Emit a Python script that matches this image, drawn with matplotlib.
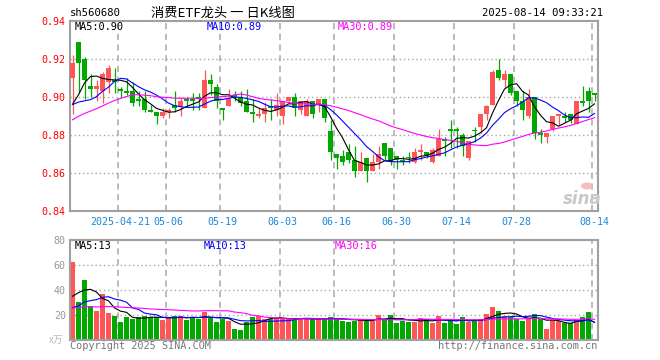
import numpy as np
import pandas as pd
import matplotlib
matplotlib.use('Agg')
import matplotlib.pyplot as plt
from matplotlib.patches import Ellipse

# daily bars 2025-04-09 .. 2025-08-14 (last bar is intraday)
opens = [0.910, 0.929, 0.920, 0.906, 0.904, 0.903, 0.908, 0.909, 0.904, 0.903,
         0.903, 0.899, 0.899, 0.893, 0.892, 0.890, 0.892, 0.896, 0.895, 0.899,
         0.899, 0.900, 0.894, 0.909, 0.905, 0.894, 0.895, 0.901, 0.900, 0.898,
         0.892, 0.890, 0.891, 0.895, 0.893, 0.890, 0.898, 0.900, 0.893, 0.890,
         0.898, 0.896, 0.899, 0.882, 0.870, 0.869, 0.871, 0.867, 0.861, 0.868,
         0.861, 0.866, 0.876, 0.873, 0.869, 0.867, 0.8685, 0.866, 0.871, 0.871,
         0.866, 0.869, 0.878, 0.883, 0.883, 0.880, 0.868, 0.8825, 0.884, 0.891,
         0.896, 0.914, 0.909, 0.912, 0.903, 0.898, 0.890, 0.900, 0.881, 0.879,
         0.883, 0.890, 0.890, 0.891, 0.886, 0.898, 0.903, 0.902]
highs = [0.922, 0.929, 0.921, 0.912, 0.909, 0.913, 0.917, 0.915, 0.905, 0.910,
         0.908, 0.903, 0.903, 0.896, 0.892, 0.894, 0.894, 0.903, 0.900, 0.900,
         0.902, 0.902, 0.914, 0.912, 0.907, 0.894, 0.904, 0.903, 0.903, 0.904,
         0.899, 0.894, 0.8975, 0.899, 0.902, 0.898, 0.900, 0.902, 0.898, 0.899,
         0.898, 0.899, 0.899, 0.888, 0.870, 0.872, 0.875, 0.874, 0.871, 0.868,
         0.870, 0.874, 0.876, 0.873, 0.869, 0.869, 0.871, 0.873, 0.875, 0.871,
         0.873, 0.883, 0.879, 0.888, 0.884, 0.881, 0.877, 0.884, 0.891, 0.896,
         0.914, 0.920, 0.914, 0.912, 0.903, 0.903, 0.904, 0.900, 0.883, 0.881,
         0.890, 0.891, 0.892, 0.891, 0.898, 0.906, 0.905, 0.902]
lows = [0.891, 0.902, 0.899, 0.900, 0.898, 0.897, 0.902, 0.902, 0.900, 0.901,
        0.895, 0.895, 0.892, 0.892, 0.886, 0.889, 0.889, 0.892, 0.890, 0.895,
        0.893, 0.893, 0.894, 0.901, 0.894, 0.888, 0.895, 0.898, 0.895, 0.892,
        0.887, 0.889, 0.887, 0.888, 0.890, 0.886, 0.897, 0.890, 0.891, 0.890,
        0.889, 0.892, 0.887, 0.867, 0.862, 0.864, 0.865, 0.858, 0.861, 0.855,
        0.861, 0.862, 0.867, 0.864, 0.862, 0.864, 0.865, 0.865, 0.867, 0.868,
        0.865, 0.869, 0.869, 0.873, 0.873, 0.869, 0.867, 0.8765, 0.881, 0.888,
        0.896, 0.909, 0.905, 0.901, 0.895, 0.888, 0.889, 0.878, 0.876, 0.876,
        0.882, 0.885, 0.887, 0.8865, 0.886, 0.895, 0.892, 0.898]
closes = [0.918, 0.918, 0.909, 0.904, 0.906, 0.912, 0.915, 0.908, 0.903, 0.902,
          0.897, 0.898, 0.893, 0.892, 0.890, 0.892, 0.893, 0.894, 0.898, 0.898,
          0.898, 0.899, 0.909, 0.907, 0.898, 0.893, 0.899, 0.900, 0.897, 0.892,
          0.891, 0.891, 0.894, 0.894, 0.896, 0.898, 0.900, 0.894, 0.898, 0.898,
          0.891, 0.899, 0.889, 0.871, 0.868, 0.866, 0.867, 0.861, 0.866, 0.861,
          0.866, 0.870, 0.869, 0.866, 0.867, 0.866, 0.868, 0.871, 0.872, 0.869,
          0.872, 0.878, 0.877, 0.882, 0.882, 0.874, 0.877, 0.882, 0.891, 0.895,
          0.913, 0.910, 0.912, 0.902, 0.898, 0.893, 0.900, 0.881, 0.880, 0.881,
          0.890, 0.891, 0.889, 0.888, 0.898, 0.897, 0.898, 0.901]
# volume, 万手
vols = [62.7, 30.7, 48, 27.2, 23.2, 36.8, 21.6, 19.5, 14.4, 18.4,
        16.8, 18.4, 19.2, 18.4, 18.4, 16, 17.9, 19.2, 19.5, 16,
        17.9, 17.1, 22.4, 17.9, 14.4, 16.8, 15.2, 8.8, 8, 14.4,
        18.4, 19.5, 16.8, 16.8, 17.3, 17.9, 16.8, 16.8, 16.8, 16.8,
        16.8, 16.8, 16.8, 18.4, 16.8, 15.5, 14.7, 15.5, 16.8, 15.5,
        15.5, 20, 16, 20, 13.9, 15.5, 14.7, 14.7, 17.6, 15.5,
        13.9, 19.5, 13.6, 16.8, 12.8, 18.4, 14.7, 15.5, 16.8, 20.8,
        26.4, 23.2, 19.2, 18.4, 16.8, 15.2, 17.6, 20.8, 16.8, 8.8,
        16, 15.2, 13.3, 13.3, 16, 18.4, 22.4, 0.8]

# bars before the window: not visible, guessed from where the MA lines start
prev_close = [0.862, 0.865, 0.866, 0.868, 0.870, 0.869, 0.867, 0.870, 0.872, 0.871,
              0.896, 0.899, 0.902, 0.904, 0.901, 0.899, 0.903, 0.900, 0.898, 0.898,
              0.905, 0.902, 0.898, 0.890, 0.884, 0.893, 0.878, 0.887, 0.905]
prev_vol = [22, 24, 28, 30, 26, 23, 21, 25, 27, 24,
            26, 28, 31, 25, 22, 24, 27, 26, 24, 24.2,
            18, 16, 17, 15, 19, 16.2, 37.5, 24.5, 34.1]

tick_idx = [8, 16, 25, 35, 44, 54, 64, 74, 87]
tick_lab = ['2025-04-21', '05-06', '05-19', '06-03', '06-16', '06-30', '07-14', '07-28', '08-14']

RED = '#ff5555'
GREEN = '#00a800'
GRID = '#a8a8a8'
MONO = 'DejaVu Sans Mono'
CJK = ['Noto Sans CJK SC', 'DejaVu Sans']

o = np.array(opens); h = np.array(highs); l = np.array(lows); c = np.array(closes)
v = np.array(vols)
n = len(c)
x = np.arange(n)
col = np.where(c >= o, RED, GREEN)

def ma(prev, cur, k):
    s = pd.Series(list(prev) + list(cur)).rolling(k).mean().values
    return s[len(prev):]

W, H = 660, 360
fig = plt.figure(figsize=(6.6, 3.6), dpi=100)
ax = fig.add_axes([70 / W, 1 - 211 / H, 528 / W, 190 / H])
axv = fig.add_axes([70 / W, 1 - 340 / H, 528 / W, 100 / H])

xmin = -0.42
for a in (ax, axv):
    a.set_xlim(xmin, xmin + 88)
    for s in a.spines.values():
        s.set_color('#a0a0a0')
        s.set_linewidth(1.5)
    for t in tick_idx:
        a.axvline(t - 0.42, color=GRID, lw=1.1, ls=(0, (4, 3)), zorder=0)
    a.tick_params(length=0)

# price panel
ax.set_ylim(0.84, 0.94)
for yv in [0.86, 0.88, 0.90, 0.92]:
    ax.axhline(yv, color=GRID, lw=1, ls=(0, (1, 2)), zorder=0)
ax.vlines(x, l, h, colors=col, lw=0.9, zorder=2)
body = np.maximum(np.abs(c - o), 0.0005)
ax.bar(x, body, 0.82, bottom=np.minimum(o, c), color=col, lw=0, zorder=3)
ax.plot(x, ma(prev_close, c, 5), color='black', lw=0.8, zorder=4)
ax.plot(x, ma(prev_close, c, 10), color='#0000ff', lw=0.8, zorder=4)
ax.plot(x, ma(prev_close, c, 30), color='#ff00ff', lw=0.8, zorder=4)
ax.set_yticks([0.84, 0.86, 0.88, 0.90, 0.92, 0.94])
ax.set_yticklabels(['%.2f' % t for t in ax.get_yticks()], color='red', family=MONO, fontsize=7.2)
ax.tick_params(axis='y', pad=3)
ax.set_xticks(tick_idx)
ax.set_xticklabels(tick_lab, color='#1a88d8', family=MONO, fontsize=7.2)
ax.tick_params(axis='x', pad=4)

# volume panel
axv.set_ylim(0, 80)
for yv in [20, 40, 60]:
    axv.axhline(yv, color=GRID, lw=1, ls=(0, (1, 2)), zorder=0)
axv.bar(x, v, 0.82, color=col, lw=0, zorder=2)
axv.plot(x, ma(prev_vol, v, 5), color='black', lw=0.8, zorder=4)
axv.plot(x, ma(prev_vol, v, 10), color='#0000ff', lw=0.8, zorder=4)
axv.plot(x, ma(prev_vol, v, 30), color='#ff00ff', lw=0.8, zorder=4)
axv.set_yticks([20, 40, 60, 80])
axv.set_yticklabels(['20', '40', '60', '80'], color='#999999', family=MONO, fontsize=7.2)
axv.tick_params(axis='y', pad=3)
axv.set_xticks([])

def ftext(px, py, s, **kw):
    fig.text(px / W, 1 - py / H, s, va='center', **kw)

# header
ftext(70, 13, 'sh560680', family=MONO, fontsize=7.6, color='black')
ftext(151, 13, '消费ETF龙头 一 日K线图', family=CJK, fontsize=9.5, color='black')
ftext(603, 13, '2025-08-14 09:33:21', family=MONO, fontsize=7.6, color='black', ha='right')

# MA legends
ftext(75, 27, 'MA5:0.90', family=MONO, fontsize=7.4, color='black')
ftext(207, 27, 'MA10:0.89', family=MONO, fontsize=7.4, color='#0000ff')
ftext(338, 27, 'MA30:0.89', family=MONO, fontsize=7.4, color='#ff00ff')
ftext(75, 246, 'MA5:13', family=MONO, fontsize=7.4, color='black')
ftext(204, 246, 'MA10:13', family=MONO, fontsize=7.4, color='#0000ff')
ftext(335, 246, 'MA30:16', family=MONO, fontsize=7.4, color='#ff00ff')

# footer
ftext(70, 346, 'Copyright 2025 SINA.COM', family=MONO, fontsize=7.4, color='#777777')
ftext(597, 346, 'http://finance.sina.com.cn', family=MONO, fontsize=7.4, color='#777777', ha='right')
ftext(49, 340, 'x万', family=CJK, fontsize=7, color='#bbbbbb')

# sina watermark: grey word plus a pink eye mark
ftext(582, 199, 'sina', fontsize=12, color='#c8c8c8', fontweight='bold', style='italic', ha='center')
fig.add_artist(Ellipse((587 / W, 1 - 186 / H), 12 / W, 7 / H, transform=fig.transFigure,
                       facecolor='#f4b8b8', edgecolor='none', alpha=0.9))

fig.savefig('out.png', dpi=100)
